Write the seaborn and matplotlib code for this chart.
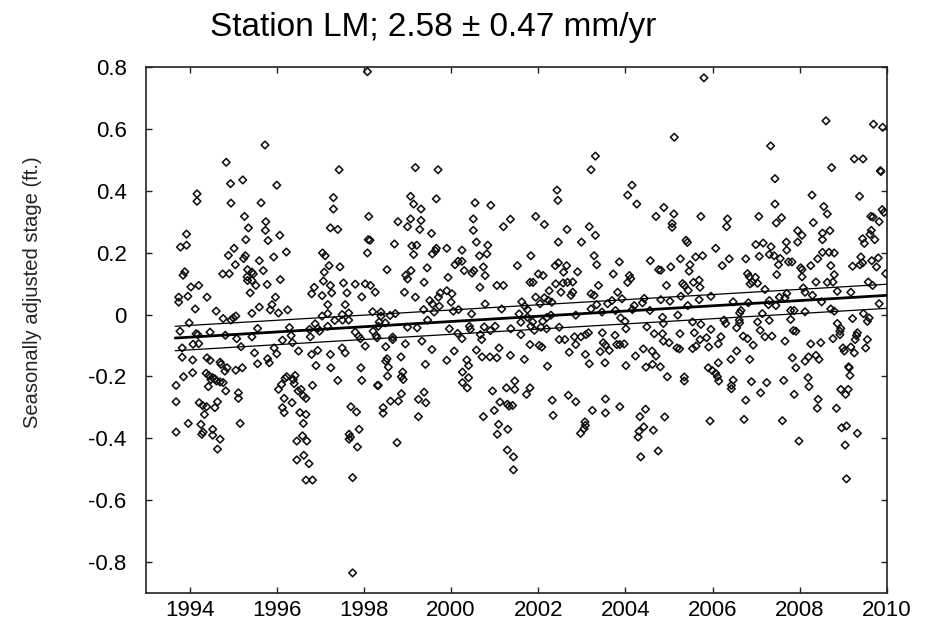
import matplotlib
matplotlib.use("Agg")
import matplotlib.pyplot as plt
import numpy as np
import pandas as pd
import seaborn as sns

# ---- data: (decimal year, seasonally adjusted stage in ft) ----
high_early = [
    (1998.08, 0.785), (1995.73, 0.548), (1994.84, 0.492), (1994.94, 0.423), (1995.22, 0.435),
    (1994.17, 0.390), (1994.17, 0.366), (1996.00, 0.418), (1994.95, 0.360), (1997.43, 0.468),
    (1997.30, 0.378), (1997.30, 0.341), (1995.64, 0.361), (1995.26, 0.317), (1995.75, 0.300),
    (1995.35, 0.280), (1995.74, 0.272), (1995.29, 0.242), (1995.80, 0.239), (1996.07, 0.256),
    (1993.93, 0.260), (1993.93, 0.224), (1993.79, 0.218), (1997.23, 0.280), (1997.40, 0.275),
    (1998.11, 0.317), (1998.10, 0.242), (1998.14, 0.240), (1998.78, 0.300), (1998.70, 0.228),
    (1995.02, 0.214),
]
high_mid = [
    (2003.31, 0.512), (2003.21, 0.468), (1999.18, 0.475), (1999.70, 0.468), (1999.07, 0.382),
    (1999.14, 0.357), (1999.31, 0.341), (1999.66, 0.374), (2002.43, 0.402), (2002.45, 0.369),
    (2004.15, 0.418), (2004.05, 0.386), (2004.26, 0.357), (2000.55, 0.361), (2000.91, 0.353),
    (1999.07, 0.309), (1999.00, 0.284), (1999.31, 0.304), (1999.28, 0.275), (1999.55, 0.262),
    (2000.51, 0.309), (2000.51, 0.272), (2000.58, 0.234), (2001.20, 0.284), (2001.36, 0.308),
    (2001.94, 0.317), (2002.14, 0.291), (2002.66, 0.275), (2003.17, 0.284), (2003.31, 0.256),
    (2002.46, 0.234), (2002.99, 0.234), (1999.10, 0.222), (1999.21, 0.224), (2000.84, 0.224),
    (1999.66, 0.214), (1999.90, 0.214),
]
high_late = [
    (2005.80, 0.765), (2005.12, 0.573), (2007.33, 0.545), (2008.60, 0.626), (2009.69, 0.615),
    (2009.90, 0.605), (2009.25, 0.503), (2009.45, 0.503), (2008.73, 0.475), (2009.85, 0.465),
    (2009.86, 0.462), (2007.43, 0.439), (2008.28, 0.386), (2009.37, 0.382), (2007.43, 0.357),
    (2008.55, 0.349), (2008.63, 0.325), (2004.88, 0.346), (2004.70, 0.317), (2005.11, 0.325),
    (2005.73, 0.317), (2006.34, 0.309), (2005.07, 0.294), (2005.07, 0.282), (2006.32, 0.284),
    (2007.06, 0.317), (2007.58, 0.313), (2007.46, 0.296), (2008.31, 0.297), (2009.63, 0.317),
    (2009.68, 0.315), (2009.82, 0.300), (2009.89, 0.339), (2009.93, 0.330), (2007.95, 0.271),
    (2008.05, 0.256), (2008.52, 0.263), (2008.69, 0.271), (2008.52, 0.242), (2009.64, 0.272),
    (2009.61, 0.259), (2009.44, 0.245), (2009.48, 0.230), (2009.72, 0.242), (2007.69, 0.234),
    (2007.95, 0.234), (2005.39, 0.240), (2005.42, 0.233), (2006.99, 0.226), (2007.16, 0.231),
    (2006.07, 0.214), (2007.34, 0.219),
]
band_1994_1997 = [
    (1994.89, 0.191), (1995.28, 0.190), (1995.24, 0.181), (1995.93, 0.186), (1996.22, 0.202),
    (1997.05, 0.199), (1997.11, 0.190), (1995.05, 0.161), (1995.60, 0.174), (1997.20, 0.158),
    (1993.89, 0.138), (1993.85, 0.127), (1994.76, 0.131), (1994.91, 0.132), (1995.33, 0.145),
    (1995.43, 0.137), (1995.46, 0.131), (1995.69, 0.142), (1997.09, 0.137), (1995.32, 0.122),
    (1995.33, 0.110), (1995.43, 0.110), (1995.52, 0.094), (1995.78, 0.097), (1996.08, 0.113),
    (1997.07, 0.108), (1994.03, 0.089), (1994.21, 0.094), (1996.86, 0.088), (1997.23, 0.094),
    (1993.75, 0.056), (1993.75, 0.040), (1993.96, 0.059), (1994.40, 0.056), (1995.39, 0.070),
    (1995.97, 0.056), (1996.80, 0.067), (1997.04, 0.061), (1997.26, 0.070), (1997.17, 0.032),
    (1994.13, 0.018), (1994.61, 0.011), (1995.60, 0.024), (1995.85, 0.015), (1995.89, 0.032),
    (1996.04, 0.005), (1996.25, 0.015), (1995.43, 0.004), (1997.04, -0.005), (1997.17, 0.003),
    (1997.33, -0.019), (1994.77, -0.013), (1994.95, -0.018), (1995.00, -0.011), (1995.06, -0.005),
    (1993.99, -0.027), (1993.78, -0.054), (1994.15, -0.062), (1994.19, -0.065), (1994.47, -0.057),
    (1994.82, -0.067), (1995.08, -0.078), (1995.43, -0.072), (1995.56, -0.045), (1996.29, -0.042),
    (1996.33, -0.068), (1996.13, -0.083), (1996.88, -0.030), (1996.94, -0.045), (1996.98, -0.054),
    (1996.75, -0.048), (1996.77, -0.072), (1997.17, -0.038), (1994.08, -0.096), (1994.21, -0.094),
    (1993.83, -0.108), (1995.18, -0.104), (1995.94, -0.108), (1996.36, -0.091), (1996.50, -0.118),
    (1995.49, -0.124), (1996.00, -0.127), (1996.94, -0.116), (1996.80, -0.129), (1997.23, -0.129),
    (1993.83, -0.138), (1994.07, -0.147), (1994.40, -0.140), (1994.47, -0.148), (1994.70, -0.154),
    (1994.72, -0.161), (1995.56, -0.159), (1995.79, -0.143), (1995.83, -0.156), (1995.21, -0.172),
    (1996.90, -0.165), (1994.86, -0.172), (1997.24, -0.172),
]
band_1997_2001 = [
    (1998.08, 0.199), (1999.14, 0.194), (1999.57, 0.196), (1999.64, 0.206), (2000.25, 0.208),
    (2000.65, 0.190), (2000.82, 0.196), (1997.45, 0.154), (1998.53, 0.145), (1999.45, 0.151),
    (2000.09, 0.161), (2000.16, 0.172), (2000.25, 0.172), (2000.30, 0.142), (2000.48, 0.134),
    (2000.52, 0.142), (2000.74, 0.154), (2000.78, 0.126), (2001.52, 0.158), (1998.96, 0.127),
    (1999.00, 0.115), (1999.08, 0.142), (1999.38, 0.104), (1999.93, 0.120), (1997.53, 0.102),
    (1997.80, 0.098), (1998.03, 0.099), (1998.15, 0.094), (1998.26, 0.072), (1997.61, 0.070),
    (1997.95, 0.057), (1998.93, 0.072), (1999.18, 0.056), (2000.66, 0.088), (2001.05, 0.094),
    (2001.20, 0.094), (1999.75, 0.070), (1999.71, 0.056), (1999.90, 0.077), (2000.02, 0.067),
    (2000.00, 0.040), (1999.51, 0.045), (1999.57, 0.034), (1999.37, 0.016), (1999.73, 0.027),
    (2000.05, 0.011), (2000.17, 0.016), (2000.78, 0.034), (2001.16, 0.018), (2001.62, 0.041),
    (2001.69, 0.027), (1997.57, 0.032), (1997.50, 0.000), (1997.65, 0.005), (1998.20, 0.009),
    (1998.39, 0.008), (1998.39, -0.005), (1998.72, 0.003), (1998.60, -0.003), (1999.61, 0.008),
    (2000.47, 0.002), (2001.56, 0.002), (1997.51, -0.018), (1997.65, -0.018), (1998.35, -0.024),
    (1998.49, -0.027), (1999.46, -0.018), (1998.33, -0.038), (1999.00, -0.041), (1999.22, -0.043),
    (1999.96, -0.046), (2000.42, -0.038), (2000.44, -0.048), (2000.76, -0.040), (2000.90, -0.052),
    (2001.01, -0.038), (2001.37, -0.046), (2001.60, -0.025), (2001.60, -0.065), (1997.80, -0.057),
    (1997.88, -0.070), (1997.92, -0.078), (1998.21, -0.054), (1998.28, -0.068), (1998.30, -0.075),
    (1998.66, -0.073), (1998.66, -0.081), (2000.15, -0.061), (2000.25, -0.078), (2000.67, -0.065),
    (2000.70, -0.081), (1999.33, -0.086), (1997.50, -0.108), (1997.57, -0.124), (1998.03, -0.102),
    (1998.50, -0.104), (1998.95, -0.095), (1999.56, -0.113), (2000.07, -0.118), (2000.58, -0.115),
    (2001.10, -0.108), (1998.85, -0.137), (1998.53, -0.143), (1998.50, -0.151), (1999.41, -0.161),
    (1999.90, -0.148), (2000.36, -0.147), (2000.40, -0.165), (2000.71, -0.137), (2000.89, -0.137),
    (2001.05, -0.140), (2001.36, -0.132), (2001.68, -0.145), (1997.93, -0.172), (1998.56, -0.170),
]
band_2001_2006 = [
    (2001.83, 0.190), (2003.28, 0.190), (2003.86, 0.170), (2004.57, 0.174), (2005.26, 0.180),
    (2005.61, 0.186), (2005.77, 0.190), (2002.46, 0.167), (2002.39, 0.158), (2002.65, 0.158),
    (2003.34, 0.161), (2005.04, 0.154), (2004.76, 0.145), (2004.81, 0.143), (2005.48, 0.161),
    (2005.46, 0.140), (2002.00, 0.131), (2002.11, 0.126), (2002.58, 0.137), (2002.90, 0.138),
    (2003.72, 0.131), (2004.09, 0.126), (2004.12, 0.116), (2004.05, 0.104), (2005.69, 0.111),
    (2005.56, 0.104), (2001.81, 0.104), (2001.88, 0.104), (2002.40, 0.099), (2002.57, 0.102),
    (2002.67, 0.104), (2002.79, 0.105), (2003.38, 0.094), (2004.94, 0.094), (2005.31, 0.100),
    (2005.35, 0.094), (2005.71, 0.088), (2005.44, 0.078), (2002.25, 0.077), (2002.52, 0.072),
    (2002.79, 0.072), (2002.75, 0.062), (2003.21, 0.067), (2003.28, 0.062), (2003.82, 0.072),
    (2001.94, 0.056), (2002.14, 0.054), (2002.23, 0.046), (2002.31, 0.040), (2002.04, 0.035),
    (2003.34, 0.032), (2003.59, 0.035), (2003.69, 0.045), (2003.92, 0.051), (2004.43, 0.052),
    (2004.39, 0.038), (2004.81, 0.048), (2005.02, 0.043), (2005.27, 0.059), (2005.69, 0.048),
    (2005.96, 0.059), (2001.75, 0.016), (2003.21, 0.018), (2003.46, 0.008), (2003.77, 0.013),
    (2004.20, 0.029), (2004.16, 0.016), (2004.56, 0.013), (2005.43, 0.029), (2001.75, -0.009),
    (2002.29, -0.002), (2002.20, -0.009), (2002.10, -0.022), (2001.87, -0.024), (2002.86, -0.002),
    (2003.89, -0.011), (2003.99, -0.022), (2004.85, -0.009), (2005.20, -0.002), (2005.54, -0.024),
    (2005.73, -0.032), (2002.06, -0.041), (2001.83, -0.038), (2001.91, -0.051), (2002.19, -0.046),
    (2002.48, -0.041), (2004.01, -0.046), (2004.49, -0.040), (2004.87, -0.029), (2005.96, -0.048),
    (2002.98, -0.072), (2003.09, -0.065), (2003.15, -0.059), (2002.83, -0.072), (2003.47, -0.059),
    (2003.76, -0.067), (2004.66, -0.062), (2004.85, -0.062), (2005.25, -0.062), (2005.58, -0.059),
    (2002.48, -0.081), (2002.61, -0.081), (2002.86, -0.097), (2003.49, -0.091), (2003.54, -0.099),
    (2003.80, -0.097), (2003.87, -0.097), (2003.97, -0.095), (2004.87, -0.086), (2005.00, -0.091),
    (2005.71, -0.081), (2005.86, -0.075), (2001.81, -0.097), (2002.02, -0.100), (2002.08, -0.105),
    (2002.71, -0.122), (2003.08, -0.129), (2003.42, -0.120), (2003.63, -0.116), (2004.41, -0.111),
    (2004.61, -0.118), (2005.18, -0.108), (2005.24, -0.111), (2005.54, -0.110), (2005.62, -0.102),
    (2005.91, -0.105), (2004.23, -0.134), (2004.70, -0.134), (2003.53, -0.156), (2003.17, -0.159),
    (2004.01, -0.165), (2004.47, -0.170), (2004.62, -0.161), (2004.80, -0.169), (2002.21, -0.167),
]
band_2006_2010 = [
    (2006.22, 0.158), (2006.38, 0.180), (2006.76, 0.180), (2007.07, 0.188), (2007.30, 0.194),
    (2007.41, 0.190), (2007.55, 0.181), (2007.51, 0.161), (2007.74, 0.170), (2007.82, 0.170),
    (2007.70, 0.208), (2008.05, 0.145), (2008.02, 0.151), (2008.25, 0.158), (2008.41, 0.180),
    (2008.52, 0.201), (2008.67, 0.201), (2008.79, 0.199), (2008.71, 0.158), (2009.21, 0.156),
    (2009.40, 0.186), (2009.38, 0.161), (2009.44, 0.167), (2009.65, 0.174), (2009.80, 0.183),
    (2009.76, 0.154), (2009.97, 0.132), (2006.80, 0.132), (2006.84, 0.122), (2006.98, 0.120),
    (2006.86, 0.099), (2006.91, 0.105), (2007.03, 0.101), (2007.47, 0.129), (2008.05, 0.122),
    (2008.37, 0.105), (2008.63, 0.104), (2008.76, 0.105), (2008.79, 0.129), (2009.57, 0.105),
    (2007.20, 0.081), (2008.08, 0.086), (2008.12, 0.072), (2008.86, 0.075), (2009.17, 0.072),
    (2009.67, 0.094), (2007.70, 0.068), (2007.66, 0.054), (2008.29, 0.062), (2007.53, 0.056),
    (2007.30, 0.045), (2007.28, 0.032), (2006.47, 0.041), (2006.82, 0.038), (2007.45, 0.029),
    (2008.50, 0.041), (2009.82, 0.035), (2007.79, 0.013), (2007.87, 0.013), (2007.14, 0.003),
    (2006.65, 0.013), (2006.62, 0.005), (2008.12, 0.009), (2008.71, 0.018), (2008.79, 0.011),
    (2009.46, 0.003), (2009.59, -0.011), (2009.55, -0.022), (2009.21, -0.013), (2006.26, -0.018),
    (2006.30, -0.029), (2006.61, -0.018), (2006.62, -0.027), (2007.03, -0.024), (2007.30, -0.019),
    (2007.79, -0.016), (2008.86, -0.029), (2008.94, -0.045), (2008.92, -0.054), (2006.55, -0.043),
    (2007.09, -0.051), (2007.85, -0.052), (2007.91, -0.054), (2006.19, -0.072), (2006.70, -0.070),
    (2006.80, -0.078), (2007.20, -0.072), (2007.36, -0.070), (2007.66, -0.086), (2008.76, -0.078),
    (2008.92, -0.065), (2009.32, -0.059), (2009.30, -0.068), (2009.27, -0.081), (2009.55, -0.081),
    (2008.25, -0.095), (2008.48, -0.091), (2006.93, -0.099), (2006.13, -0.095), (2006.55, -0.118),
    (2009.51, -0.108), (2008.99, -0.108), (2009.02, -0.118), (2009.17, -0.105), (2009.25, -0.124),
    (2007.83, -0.140), (2008.12, -0.151), (2008.20, -0.137), (2008.37, -0.132), (2008.44, -0.145),
    (2006.42, -0.145), (2006.85, -0.145), (2006.13, -0.156), (2007.91, -0.172), (2009.12, -0.169),
]
low_early = [
    (1993.86, -0.201), (1993.69, -0.229), (1994.07, -0.188), (1994.38, -0.190), (1994.44, -0.197),
    (1994.49, -0.210), (1994.43, -0.233), (1994.53, -0.204), (1994.58, -0.208), (1994.62, -0.215),
    (1994.70, -0.218), (1994.77, -0.220), (1994.83, -0.247), (1994.81, -0.183), (1995.06, -0.180),
    (1993.69, -0.282), (1994.22, -0.285), (1994.30, -0.294), (1994.39, -0.298), (1994.34, -0.323),
    (1994.58, -0.301), (1994.64, -0.282), (1993.97, -0.352), (1994.26, -0.355), (1994.31, -0.380),
    (1994.28, -0.387), (1994.53, -0.371), (1994.53, -0.390), (1994.70, -0.403), (1994.64, -0.435),
    (1993.69, -0.380), (1995.12, -0.253), (1995.12, -0.271), (1995.16, -0.352), (1996.04, -0.242),
    (1996.11, -0.226), (1996.19, -0.206), (1996.38, -0.210), (1996.40, -0.223), (1996.42, -0.197),
    (1996.23, -0.201), (1996.17, -0.271), (1996.13, -0.301), (1996.17, -0.317), (1996.35, -0.285),
    (1996.49, -0.247), (1996.56, -0.242), (1996.61, -0.263), (1996.67, -0.271), (1996.53, -0.317),
    (1996.67, -0.323), (1996.61, -0.352), (1996.59, -0.392), (1996.46, -0.409), (1996.69, -0.409),
    (1996.62, -0.455), (1996.46, -0.470), (1996.74, -0.482), (1996.67, -0.535), (1996.82, -0.535),
    (1996.82, -0.229), (1997.40, -0.213), (1997.70, -0.298), (1997.83, -0.315), (1997.66, -0.387),
    (1997.69, -0.396), (1997.66, -0.403), (1997.89, -0.371), (1997.85, -0.428), (1997.74, -0.527),
    (1997.74, -0.835), (1997.95, -0.213), (1998.44, -0.301), (1998.44, -0.319), (1998.31, -0.229),
    (1998.33, -0.229), (1998.54, -0.199),
]
low_mid = [
    (1998.61, -0.280), (1998.79, -0.280), (1998.89, -0.186), (1998.90, -0.210), (1998.86, -0.201),
    (1998.86, -0.256), (1998.76, -0.414), (1999.25, -0.274), (1999.42, -0.285), (1999.38, -0.251),
    (1999.25, -0.330), (2000.26, -0.186), (2000.26, -0.220), (2000.40, -0.204), (2000.37, -0.237),
    (2000.74, -0.330), (2000.95, -0.247), (2000.99, -0.310), (2001.12, -0.283), (2001.27, -0.237),
    (2001.29, -0.290), (2001.33, -0.296), (2001.41, -0.294), (2001.46, -0.215), (2001.46, -0.242),
    (2001.73, -0.258), (2001.81, -0.237), (2001.09, -0.355), (2001.06, -0.387), (2001.30, -0.371),
    (2001.29, -0.438), (2001.43, -0.460), (2001.43, -0.502), (2002.32, -0.277), (2002.34, -0.326),
    (2002.69, -0.261), (2002.86, -0.282), (2003.07, -0.347), (2003.08, -0.358), (2003.05, -0.369),
    (2002.97, -0.384), (2003.24, -0.310), (2003.54, -0.273), (2003.54, -0.318), (2003.87, -0.298),
    (2004.29, -0.396), (2004.31, -0.378), (2004.42, -0.363), (2004.33, -0.330), (2004.46, -0.306),
    (2004.35, -0.460),
]
low_late = [
    (2004.64, -0.374), (2004.75, -0.441), (2004.90, -0.331), (2004.96, -0.201), (2005.35, -0.202),
    (2005.35, -0.215), (2005.90, -0.172), (2005.99, -0.181), (2006.07, -0.190), (2006.11, -0.201),
    (2006.14, -0.215), (2006.47, -0.212), (2006.43, -0.229), (2006.43, -0.240), (2005.94, -0.344),
    (2006.72, -0.339), (2006.76, -0.277), (2006.89, -0.217), (2007.10, -0.253), (2007.24, -0.220),
    (2007.60, -0.343), (2007.63, -0.213), (2007.87, -0.258), (2007.98, -0.409), (2008.21, -0.233),
    (2008.19, -0.204), (2008.42, -0.274), (2008.40, -0.303), (2008.84, -0.303), (2008.94, -0.242),
    (2009.11, -0.242), (2009.05, -0.258), (2008.96, -0.366), (2009.07, -0.360), (2009.32, -0.384),
    (2009.04, -0.422), (2009.07, -0.531), (2009.13, -0.172), (2009.15, -0.197),
]

# linear trend (thick) and its bounds (thin), end points
trend_years = [1993.67, 2010.0]
trend_center = [-0.076, 0.062]
trend_upper = [-0.038, 0.098]
trend_lower = [-0.117, 0.020]

title_text = "Station LM; 2.58 \u00b1 0.47 mm/yr"
y_label = "Seasonally adjusted stage (ft.)"
x_ticks = [1994, 1996, 1998, 2000, 2002, 2004, 2006, 2008, 2010]
y_ticks = [0.8, 0.6, 0.4, 0.2, 0.0, -0.2, -0.4, -0.6, -0.8]
y_tick_labels = ["0.8", "0.6", "0.4", "0.2", "0", "-0.2", "-0.4", "-0.6", "-0.8"]

# ---- build frame ----
blocks = [high_early, high_mid, high_late, band_1994_1997, band_1997_2001,
          band_2001_2006, band_2006_2010, low_early, low_mid, low_late]
df = pd.DataFrame([p for b in blocks for p in b], columns=["year", "stage"]).sort_values("year")

sns.set_theme(style="white")
plt.rcParams["font.family"] = ["Liberation Sans", "DejaVu Sans"]

W, H = 930, 632
fig = plt.figure(figsize=(W / 100, H / 100), dpi=100)
L, R, T, B = 146, 887, 67, 593
ax = fig.add_axes([L / W, 1 - B / H, (R - L) / W, (B - T) / H])

sns.scatterplot(data=df, x="year", y="stage", marker="D", s=15, color="black",
                linewidth=1.15, ax=ax, legend=False, zorder=3)
coll = ax.collections[0]
coll.set_facecolor("none")
coll.set_edgecolor("#111111")

line_df = pd.DataFrame({"year": trend_years, "center": trend_center,
                        "upper": trend_upper, "lower": trend_lower})
sns.lineplot(data=line_df, x="year", y="upper", color="black", linewidth=0.9, ax=ax, zorder=4)
sns.lineplot(data=line_df, x="year", y="lower", color="black", linewidth=0.9, ax=ax, zorder=4)
sns.lineplot(data=line_df, x="year", y="center", color="black", linewidth=2.0, ax=ax, zorder=5)

ax.set_xlim(1993, 2010)
ax.set_ylim(-0.9, 0.8)
ax.set_xticks(x_ticks)
ax.set_xticklabels([str(t) for t in x_ticks])
ax.set_yticks(y_ticks)
ax.set_yticklabels(y_tick_labels)
ax.set_xlabel("")
ax.set_ylabel("")

for sp in ax.spines.values():
    sp.set_visible(True)
    sp.set_color("#222222")
    sp.set_linewidth(1.2)

ax.tick_params(axis="both", which="major", direction="in", length=4.5, width=1.0,
               colors="#222222", labelcolor="black", labelsize=16,
               top=True, right=True, bottom=True, left=True)
ax.tick_params(axis="y", pad=14)
ax.tick_params(axis="x", pad=5)

fig.text(433 / W, 1 - 36 / H, title_text, ha="center", va="baseline", fontsize=24, color="black")
fig.text(33 / W, 1 - 292 / H, y_label, ha="center", va="center", rotation=90,
         fontsize=14.5, color="#222222")

fig.savefig("out.png", dpi=100)
